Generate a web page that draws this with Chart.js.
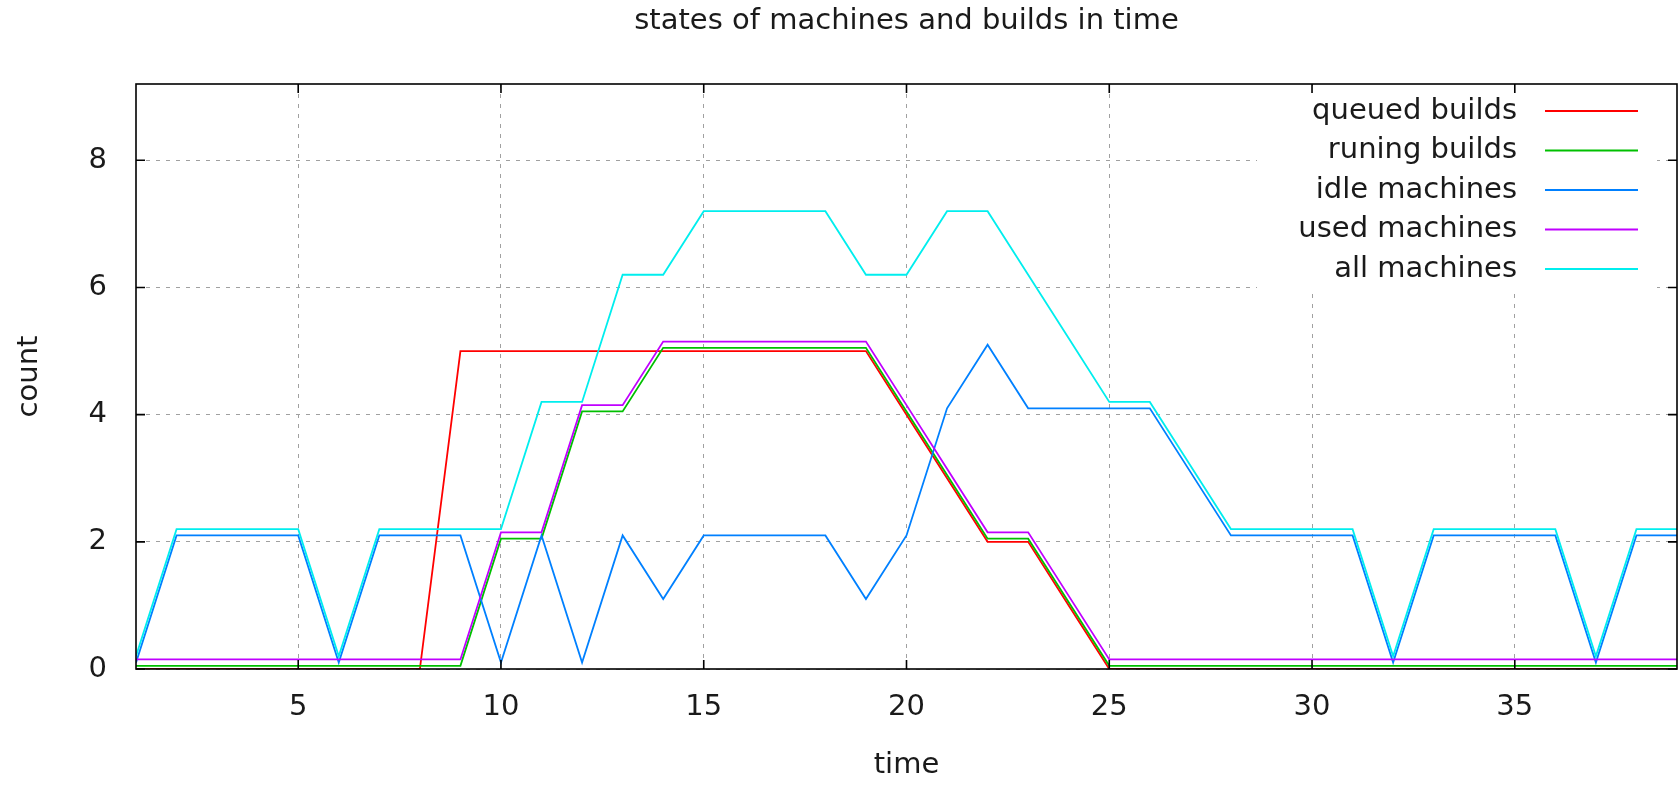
<!DOCTYPE html>
<html>
<head>
<meta charset="utf-8">
<title>states of machines and builds in time</title>
<script src="https://cdn.jsdelivr.net/npm/chart.js@4.4.1/dist/chart.umd.min.js"></script>
<style>
  html, body { margin: 0; padding: 0; background: #fff; }
  canvas { display: block; }
</style>
</head>
<body>
<canvas id="stateCanvas" width="1678" height="787"></canvas>
<script>
// === Data (gnuplot shifts each series a bit so lines don't overlap) ===
const time = [1, 2, 3, 4, 5, 6, 7, 8, 9, 10, 11, 12, 13, 14, 15, 16, 17, 18, 19, 20,
              21, 22, 23, 24, 25, 26, 27, 28, 29, 30, 31, 32, 33, 34, 35, 36, 37, 38, 39];

const queuedBuilds = [0, 0, 0, 0, 0, 0, 0, 0, 5, 5, 5, 5, 5, 5, 5, 5, 5, 5, 5, 4,
                      3, 2, 2, 1, 0, 0, 0, 0, 0, 0, 0, 0, 0, 0, 0, 0, 0, 0, 0];

const runingBuilds = [0.05, 0.05, 0.05, 0.05, 0.05, 0.05, 0.05, 0.05, 0.05, 2.05,
                      2.05, 4.05, 4.05, 5.05, 5.05, 5.05, 5.05, 5.05, 5.05, 4.05,
                      3.05, 2.05, 2.05, 1.05, 0.05, 0.05, 0.05, 0.05, 0.05, 0.05,
                      0.05, 0.05, 0.05, 0.05, 0.05, 0.05, 0.05, 0.05, 0.05];

const idleMachines = [0.1, 2.1, 2.1, 2.1, 2.1, 0.1, 2.1, 2.1, 2.1, 0.1,
                      2.1, 0.1, 2.1, 1.1, 2.1, 2.1, 2.1, 2.1, 1.1, 2.1,
                      4.1, 5.1, 4.1, 4.1, 4.1, 4.1, 3.1, 2.1, 2.1, 2.1,
                      2.1, 0.1, 2.1, 2.1, 2.1, 2.1, 0.1, 2.1, 2.1];

const usedMachines = [0.15, 0.15, 0.15, 0.15, 0.15, 0.15, 0.15, 0.15, 0.15, 2.15,
                      2.15, 4.15, 4.15, 5.15, 5.15, 5.15, 5.15, 5.15, 5.15, 4.15,
                      3.15, 2.15, 2.15, 1.15, 0.15, 0.15, 0.15, 0.15, 0.15, 0.15,
                      0.15, 0.15, 0.15, 0.15, 0.15, 0.15, 0.15, 0.15, 0.15];

const allMachines = [0.2, 2.2, 2.2, 2.2, 2.2, 0.2, 2.2, 2.2, 2.2, 2.2,
                     4.2, 4.2, 6.2, 6.2, 7.2, 7.2, 7.2, 7.2, 6.2, 6.2,
                     7.2, 7.2, 6.2, 5.2, 4.2, 4.2, 3.2, 2.2, 2.2, 2.2,
                     2.2, 0.2, 2.2, 2.2, 2.2, 2.2, 0.2, 2.2, 2.2];

const seriesNames = ['queued builds', 'runing builds', 'idle machines', 'used machines', 'all machines'];
const seriesValues = [queuedBuilds, runingBuilds, idleMachines, usedMachines, allMachines];
const seriesColors = ['#ff0000', '#00c000', '#0080ff', '#c000ff', '#00eeee'];

const xTicks = [5, 10, 15, 20, 25, 30, 35];
const yTicks = [0, 2, 4, 6, 8];

// === Defaults ===
const FONT = 'DejaVu Sans';
const TEXT = '#1a1a1a';
Chart.defaults.font.family = FONT;
Chart.defaults.font.size = 29;
Chart.defaults.color = TEXT;

// === gnuplot look: opaque key, full border, inward ticks on all sides ===
const gnuplotBox = {
  id: 'gnuplotBox',
  afterDatasetsDraw(chart) {
    const { ctx, chartArea: a } = chart;
    const xs = chart.scales.x;
    const ys = chart.scales.y;
    ctx.save();

    // key (covers the grid behind it)
    ctx.fillStyle = '#fff';
    ctx.fillRect(a.right - 420, a.top + 2, 400, 204);
    ctx.font = `29px "${FONT}"`;
    ctx.textAlign = 'right';
    ctx.textBaseline = 'middle';
    chart.data.datasets.forEach((ds, i) => {
      const ky = a.top + 27 + i * 39.5;
      ctx.fillStyle = TEXT;
      ctx.fillText(ds.label, a.right - 160, ky);
      ctx.strokeStyle = ds.borderColor;
      ctx.lineWidth = 2;
      ctx.beginPath();
      ctx.moveTo(a.right - 132, ky);
      ctx.lineTo(a.right - 39, ky);
      ctx.stroke();
    });

    // border
    ctx.strokeStyle = '#000';
    ctx.lineWidth = 1.6;
    ctx.strokeRect(a.left, a.top, a.right - a.left, a.bottom - a.top);

    // ticks
    ctx.beginPath();
    xTicks.forEach(v => {
      const px = xs.getPixelForValue(v);
      ctx.moveTo(px, a.bottom); ctx.lineTo(px, a.bottom - 9);
      ctx.moveTo(px, a.top); ctx.lineTo(px, a.top + 9);
    });
    yTicks.forEach(v => {
      const py = ys.getPixelForValue(v);
      ctx.moveTo(a.left, py); ctx.lineTo(a.left + 9, py);
      ctx.moveTo(a.right, py); ctx.lineTo(a.right - 9, py);
    });
    ctx.stroke();
    ctx.restore();
  }
};

// === Datasets ===
const datasets = seriesNames.map((name, i) => ({
  label: name,
  data: seriesValues[i],
  borderColor: seriesColors[i],
  backgroundColor: seriesColors[i],
  borderWidth: 1.8,
  pointRadius: 0,
  tension: 0,
  fill: false,
  order: seriesNames.length - i   // last series (all machines) on top, like gnuplot
}));

// === Axes ===
const gridLook = { color: '#a0a0a0', lineWidth: 1, drawTicks: false };
const borderLook = { display: false, dash: [4, 6] };

const ctx = document.getElementById('stateCanvas').getContext('2d');
const chart = new Chart(ctx, {
  type: 'line',
  data: { labels: time, datasets },
  options: {
    responsive: false,
    animation: false,
    layout: { padding: { left: 0, right: 1, top: 0, bottom: 0 } },
    scales: {
      x: {
        type: 'linear',
        min: 1,
        max: 39,
        afterBuildTicks: s => { s.ticks = xTicks.map(v => ({ value: v })); },
        afterFit: s => { s.height = 118; },
        grid: gridLook,
        border: borderLook,
        ticks: { padding: 21, maxRotation: 0, autoSkip: false },
        title: { display: true, text: 'time', padding: { top: 0, bottom: 4.6 } }
      },
      y: {
        type: 'linear',
        min: 0,
        max: 9.2,
        afterBuildTicks: s => { s.ticks = yTicks.map(v => ({ value: v })); },
        afterFit: s => { s.width = 136; },
        grid: gridLook,
        border: borderLook,
        ticks: { padding: 29 },
        title: { display: true, text: 'count', padding: { top: 12, bottom: 0 } }
      }
    },
    plugins: {
      legend: { display: false },
      tooltip: { enabled: false },
      title: {
        display: true,
        text: 'states of machines and builds in time',
        fullSize: false,
        font: { size: 29, weight: 'normal' },
        color: TEXT,
        padding: { top: 4.3, bottom: 44.9 }
      }
    }
  },
  plugins: [gnuplotBox]
});
</script>
</body>
</html>
